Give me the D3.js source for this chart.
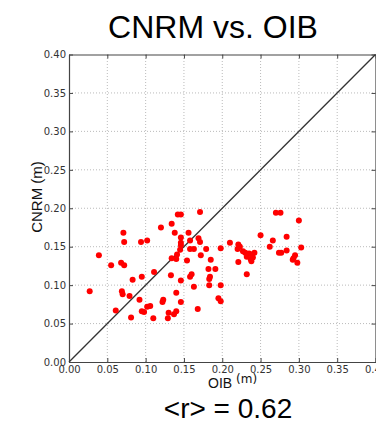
<!DOCTYPE html>
<html>
<head>
<meta charset="utf-8">
<script src="https://cdn.jsdelivr.net/npm/d3@7"></script>
<style>
  body { margin: 0; background: white; }
  svg { display: block; }
</style>
</head>
<body>
<div id="chart"></div>
<script>
// OIB (x) and CNRM (y) thickness pairs, metres
var oib = [0.027, 0.039, 0.055, 0.068, 0.072, 0.071, 0.072, 0.083, 0.069, 0.070,
           0.079, 0.061, 0.081, 0.095, 0.094, 0.102, 0.111, 0.092, 0.095, 0.098,
           0.102, 0.106, 0.110, 0.120, 0.134, 0.138, 0.142, 0.146, 0.171, 0.156,
           0.146, 0.146, 0.146, 0.145, 0.141, 0.134, 0.140, 0.158, 0.158, 0.163,
           0.169, 0.171, 0.154, 0.172, 0.179, 0.185, 0.182, 0.191, 0.184, 0.183,
           0.183, 0.198, 0.195, 0.198, 0.133, 0.146, 0.163, 0.140, 0.123, 0.122,
           0.146, 0.129, 0.130, 0.137, 0.140, 0.168, 0.158, 0.160, 0.198, 0.210,
           0.270, 0.276, 0.300, 0.250, 0.284, 0.266, 0.262, 0.221, 0.223, 0.220,
           0.303, 0.284, 0.274, 0.277, 0.227, 0.230, 0.235, 0.239, 0.242, 0.232,
           0.237, 0.240, 0.295, 0.293, 0.292, 0.298, 0.221, 0.238, 0.232];
var cnrm = [0.092, 0.139, 0.126, 0.129, 0.126, 0.168, 0.156, 0.107, 0.092, 0.088,
            0.086, 0.067, 0.058, 0.111, 0.156, 0.158, 0.117, 0.081, 0.066, 0.065,
            0.072, 0.073, 0.057, 0.175, 0.180, 0.168, 0.192, 0.192, 0.195, 0.168,
            0.162, 0.155, 0.152, 0.146, 0.140, 0.135, 0.134, 0.158, 0.147, 0.147,
            0.161, 0.156, 0.132, 0.139, 0.147, 0.133, 0.121, 0.121, 0.111, 0.108,
            0.100, 0.100, 0.083, 0.079, 0.113, 0.106, 0.098, 0.090, 0.081, 0.078,
            0.078, 0.057, 0.064, 0.062, 0.066, 0.069, 0.111, 0.114, 0.148, 0.155,
            0.194, 0.194, 0.184, 0.165, 0.163, 0.158, 0.150, 0.153, 0.150, 0.147,
            0.149, 0.145, 0.142, 0.142, 0.144, 0.142, 0.141, 0.140, 0.142, 0.137,
            0.134, 0.136, 0.139, 0.135, 0.133, 0.129, 0.130, 0.131, 0.114];
var ticks = [0, 0.05, 0.10, 0.15, 0.20, 0.25, 0.30, 0.35, 0.40];
var oneToOne = [0, 0.40];

var W = 376, H = 425;
var x = d3.scaleLinear().domain([0, 0.40]).range([69, 375.5]);
var y = d3.scaleLinear().domain([0, 0.40]).range([362, 54.5]);
var fmt = d3.format(".2f");

var svg = d3.select("#chart").append("svg")
    .attr("width", W)
    .attr("height", H);

// dotted grid
svg.append("g").selectAll("line.gx")
    .data(ticks.slice(1, -1))
    .enter().append("line")
    .attr("x1", function(d) { return x(d); })
    .attr("x2", function(d) { return x(d); })
    .attr("y1", y(0)).attr("y2", y(0.40))
    .attr("stroke", "#aaa").attr("stroke-width", 0.8)
    .attr("stroke-dasharray", "1,2");
svg.append("g").selectAll("line.gy")
    .data(ticks.slice(1, -1))
    .enter().append("line")
    .attr("y1", function(d) { return y(d); })
    .attr("y2", function(d) { return y(d); })
    .attr("x1", x(0)).attr("x2", x(0.40))
    .attr("stroke", "#aaa").attr("stroke-width", 0.8)
    .attr("stroke-dasharray", "1,2");

// axes, ticks pointing in
svg.append("g")
    .attr("transform", "translate(0," + y(0) + ")")
    .call(d3.axisBottom(x).tickValues(ticks).tickFormat(fmt).tickSizeInner(-4).tickSizeOuter(0).tickPadding(4));
svg.append("g")
    .attr("transform", "translate(" + x(0) + ",0)")
    .call(d3.axisLeft(y).tickValues(ticks).tickFormat(fmt).tickSizeInner(-4).tickSizeOuter(0).tickPadding(3));
svg.append("g")
    .attr("transform", "translate(0," + y(0.40) + ")")
    .call(d3.axisTop(x).tickValues(ticks).tickFormat("").tickSizeInner(-4).tickSizeOuter(0));
svg.append("g")
    .attr("transform", "translate(" + x(0.40) + ",0)")
    .call(d3.axisRight(y).tickValues(ticks).tickFormat("").tickSizeInner(-4).tickSizeOuter(0));

svg.selectAll(".domain").attr("stroke", "#444").attr("stroke-width", 1.2);
svg.selectAll(".tick line").attr("stroke", "#444");
svg.selectAll(".tick text")
    .attr("font-family", "DejaVu Sans")
    .attr("font-size", 10)
    .attr("fill", "#333");

// 1:1 line
svg.append("line")
    .attr("x1", x(oneToOne[0])).attr("y1", y(oneToOne[0]))
    .attr("x2", x(oneToOne[1])).attr("y2", y(oneToOne[1]))
    .attr("stroke", "#333")
    .attr("stroke-width", 1.3);

// points
svg.append("g").selectAll("circle")
    .data(oib)
    .enter().append("circle")
    .attr("cx", function(d) { return x(d); })
    .attr("cy", function(d, i) { return y(cnrm[i]); })
    .attr("r", 3)
    .attr("fill", "#ff0000");

// title
svg.append("text")
    .attr("x", 213).attr("y", 38)
    .attr("text-anchor", "middle")
    .attr("font-family", "Liberation Sans, Arial, sans-serif")
    .attr("font-size", 32)
    .attr("fill", "#000")
    .text("CNRM vs. OIB");

// axis labels
var xl = svg.append("text")
    .attr("x", 208).attr("y", 388)
    .attr("font-family", "Liberation Sans, Arial, sans-serif")
    .attr("fill", "#111");
xl.append("tspan").attr("font-size", 14).text("OIB ");
xl.append("tspan").attr("font-size", 12).attr("dy", -5).attr("font-family", "DejaVu Sans").text("(m)");

svg.append("text")
    .attr("transform", "translate(42,197) rotate(-90)")
    .attr("text-anchor", "middle")
    .attr("font-family", "Liberation Sans, Arial, sans-serif")
    .attr("font-size", 15)
    .attr("fill", "#111")
    .text("CNRM (m)");

svg.append("text")
    .attr("x", 228).attr("y", 418)
    .attr("text-anchor", "middle")
    .attr("font-family", "Liberation Sans, Arial, sans-serif")
    .attr("font-size", 28)
    .attr("fill", "#000")
    .text("<r> = 0.62");
</script>
</body>
</html>
